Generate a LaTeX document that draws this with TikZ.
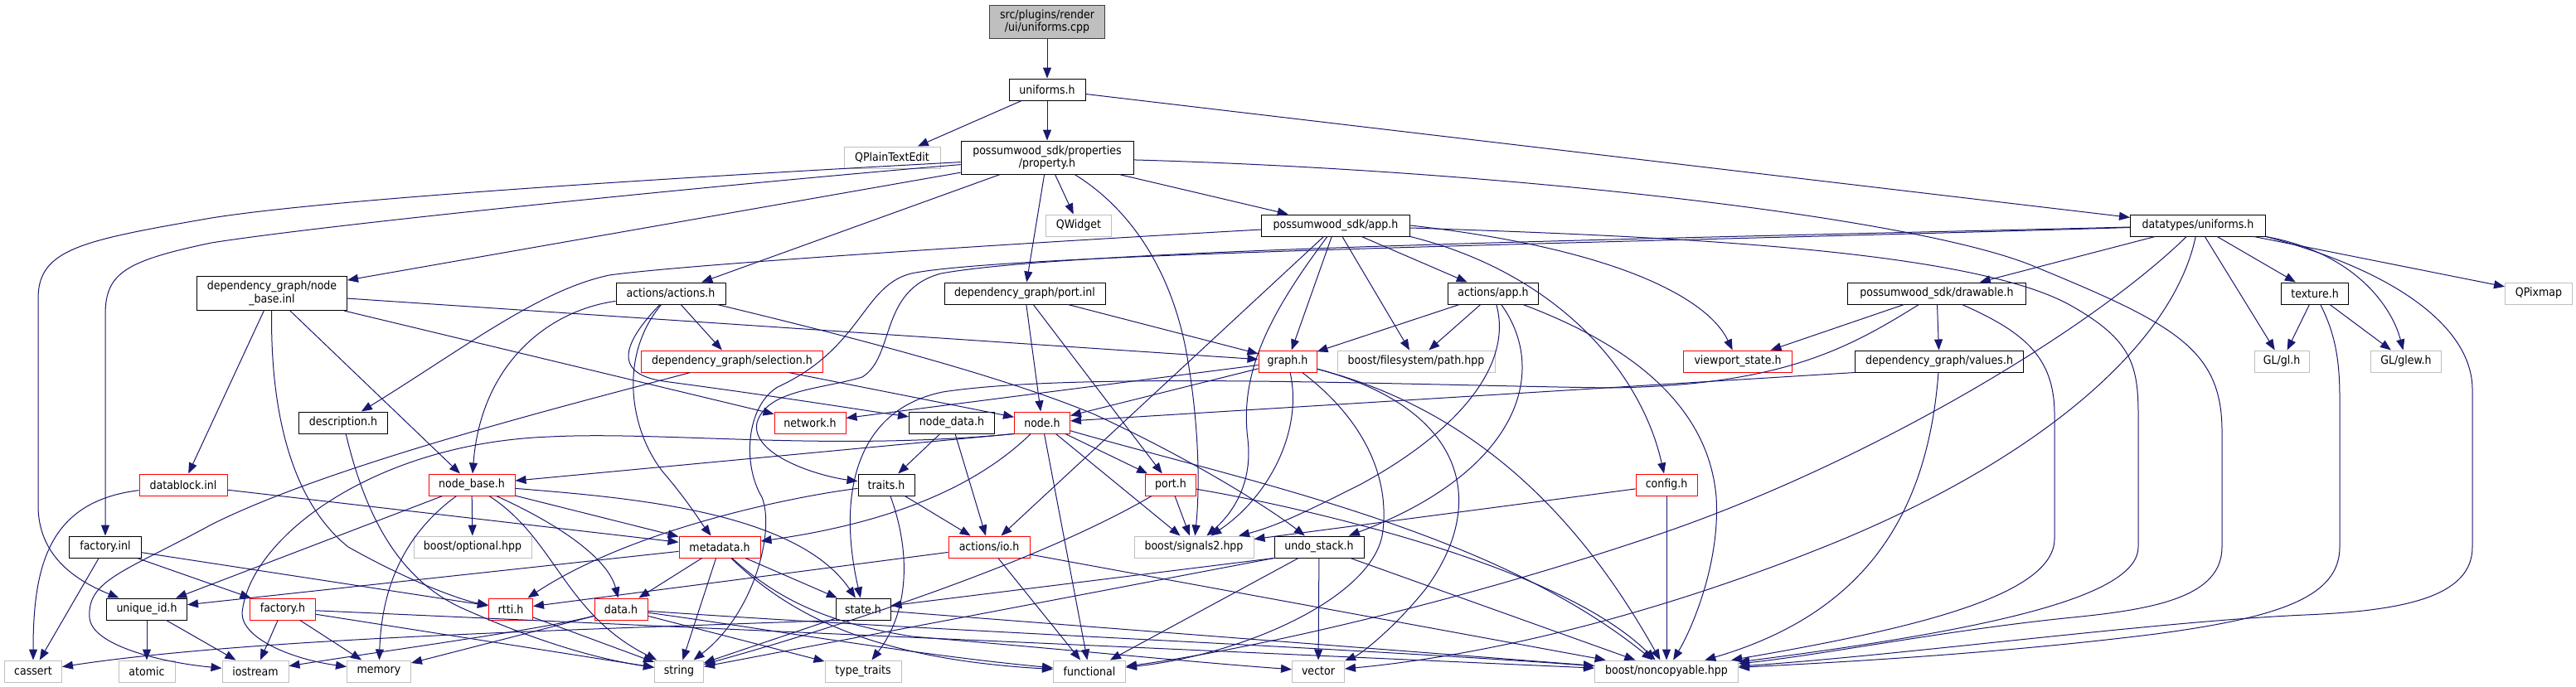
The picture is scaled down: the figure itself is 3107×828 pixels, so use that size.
\documentclass[tikz,border=0pt]{standalone}
\usepackage{fontspec}
\setmainfont{DejaVu Sans Condensed}
\usetikzlibrary{arrows.meta}
\definecolor{edgec}{HTML}{191970}
\definecolor{leafc}{HTML}{BFBFBF}
\definecolor{rootf}{HTML}{BFBFBF}
\definecolor{redc}{HTML}{FF0000}
\tikzset{
  nb/.style={draw=black, line width=1pt, fill=white, inner sep=0pt, minimum height=26pt,
    font=\fontsize{14}{15.5}\selectfont, text=black, align=center},
  rb/.style={nb, draw=redc},
  gb/.style={nb, draw=leafc},
  rootb/.style={nb, fill=rootf, draw=black!75},
  dep/.style={draw=edgec, line width=1pt, -{Triangle[length=13pt,width=10pt]}},
}
\begin{document}
\begin{tikzpicture}[x=1pt,y=-1pt]
\fill[white] (0,0) rectangle (3107,828);
\useasboundingbox (0,0) rectangle (3107,828);
% row 0-2
\node[rootb, minimum width=139pt, minimum height=40pt] (cpp) at (1263,26) {src/plugins/render\\/ui/uniforms.cpp};
\node[nb, minimum width=92pt] (uh) at (1263,108) {uniforms.h};
\node[gb, minimum width=116pt] (qpte) at (1076,190) {QPlainTextEdit};
\node[nb, minimum width=208pt, minimum height=40pt] (prop) at (1263,190) {possumwood\_sdk/properties\\/property.h};
% row 3
\node[gb, minimum width=79pt] (qw) at (1301,272) {QWidget};
\node[nb, minimum width=179pt] (app) at (1611,272) {possumwood\_sdk/app.h};
\node[nb, minimum width=163pt] (dtu) at (2651,272) {datatypes/uniforms.h};
% row 4
\node[nb, minimum width=181pt, minimum height=41pt] (nbinl) at (328,354) {dependency\_graph/node\\\_base.inl};
\node[nb, minimum width=132pt] (acts) at (809,354) {actions/actions.h};
\node[nb, minimum width=194pt] (pinl) at (1236,354) {dependency\_graph/port.inl};
\node[nb, minimum width=109pt] (aapp) at (1801,354) {actions/app.h};
\node[nb, minimum width=215pt] (drawable) at (2336,354) {possumwood\_sdk/drawable.h};
\node[nb, minimum width=81pt] (tex) at (2792,354) {texture.h};
\node[gb, minimum width=81pt] (qpix) at (3062,354) {QPixmap};
% row 5
\node[rb, minimum width=219pt] (sel) at (883,436) {dependency\_graph/selection.h};
\node[rb, minimum width=70pt] (graphh) at (1553,436) {graph.h};
\node[gb, minimum width=190pt] (fspath) at (1708,436) {boost/filesystem/path.hpp};
\node[rb, minimum width=131pt] (vp) at (2096,436) {viewport\_state.h};
\node[nb, minimum width=203pt] (vals) at (2339,436) {dependency\_graph/values.h};
\node[gb, minimum width=66pt] (gl) at (2752,436) {GL/gl.h};
\node[gb, minimum width=85pt] (glew) at (2902,436) {GL/glew.h};
% row 6
\node[nb, minimum width=107pt] (desc) at (414,510) {description.h};
\node[rb, minimum width=86pt] (net) at (977,510) {network.h};
\node[nb, minimum width=103pt] (ndata) at (1148,510) {node\_data.h};
\node[rb, minimum width=67pt] (nodeh) at (1257,510) {node.h};
% row 7
\node[rb, minimum width=106pt] (dblk) at (221,585) {datablock.inl};
\node[rb, minimum width=104pt] (nbh) at (569,585) {node\_base.h};
\node[nb, minimum width=68pt] (traits) at (1069,585) {traits.h};
\node[rb, minimum width=61pt] (porth) at (1412,585) {port.h};
\node[rb, minimum width=74pt] (cfg) at (2010,585) {config.h};
% row 8
\node[nb, minimum width=87pt] (finl) at (127,660) {factory.inl};
\node[gb, minimum width=142pt] (opt) at (570,660) {boost/optional.hpp};
\node[rb, minimum width=98pt] (meta) at (868,660) {metadata.h};
\node[rb, minimum width=98pt] (io) at (1193,660) {actions/io.h};
\node[gb, minimum width=144pt] (sig) at (1440,660) {boost/signals2.hpp};
\node[nb, minimum width=108pt] (undo) at (1591,660) {undo\_stack.h};
% row 9
\node[nb, minimum width=97pt] (uid) at (177,735) {unique\_id.h};
\node[rb, minimum width=79pt] (fac) at (341,735) {factory.h};
\node[rb, minimum width=53pt] (rtti) at (616,735) {rtti.h};
\node[rb, minimum width=64pt] (datah) at (749,735) {data.h};
\node[nb, minimum width=66pt] (stateh) at (1041,735) {state.h};
% row 10
\node[gb, minimum width=69pt] (cassert) at (40,810) {cassert};
\node[gb, minimum width=68pt] (atomic) at (177,810) {atomic};
\node[gb, minimum width=80pt] (iostream) at (308,810) {iostream};
\node[gb, minimum width=77pt] (mem) at (457,810) {memory};
\node[gb, minimum width=59pt] (strg) at (819,810) {string};
\node[gb, minimum width=92pt] (tt) at (1041,810) {type\_traits};
\node[gb, minimum width=87pt] (func) at (1314,810) {functional};
\node[gb, minimum width=63pt] (vec) at (1590,810) {vector};
\node[gb, minimum width=173pt] (noncopy) at (2010,810) {boost/noncopyable.hpp};

% ---- edges ----
\draw[dep] (cpp) -- (uh);
\draw[dep] (uh) -- (qpte);
\draw[dep] (uh) -- (prop);
\draw[dep] (uh) -- (dtu);
% property.h
\draw[dep] (prop) -- (qw);
\draw[dep] (prop) -- (app);
\draw[dep] (prop) -- (acts);
\draw[dep] (prop) -- (pinl);
\draw[dep] (prop) -- (nbinl);
\draw[dep] (prop) .. controls (1360,250) and (1410,320) .. (1430,420) .. controls (1445,500) and (1448,580) .. (sig);
\draw[dep] (prop) .. controls (1800,205) and (2300,260) .. (2450,320) .. controls (2620,390) and (2680,420) .. (2680,520) -- (2680,660) .. controls (2680,720) and (2600,735) .. (2500,745) .. controls (2350,760) and (2200,790) .. (noncopy);
\draw[dep] (prop) .. controls (800,215) and (400,240) .. (255,263) .. controls (100,290) and (46,300) .. (46,360) -- (46,610) .. controls (46,670) and (90,700) .. (uid);
\draw[dep] (prop) .. controls (900,220) and (400,270) .. (255,293) .. controls (150,315) and (127,330) .. (127,380) -- (finl);
% app.h
\draw[dep] (app) .. controls (1200,295) and (820,320) .. (735,332) .. controls (650,350) and (560,420) .. (desc);
\draw[dep] (app) -- (aapp);
\draw[dep] (app) -- (graphh);
\draw[dep] (app) -- (fspath);
\draw[dep] (app) -- (io);
\draw[dep] (app) .. controls (1530,380) and (1495,450) .. (1505,530) .. controls (1512,590) and (1480,625) .. (sig);
\draw[dep] (app.south east) .. controls (1880,330) and (1980,450) .. (cfg);
\draw[dep] (app.east) .. controls (1950,300) and (2060,360) .. (vp);
\draw[dep] (app) .. controls (2000,285) and (2380,300) .. (2500,370) .. controls (2570,410) and (2579,440) .. (2579,500) -- (2579,660) .. controls (2579,720) and (2400,760) .. (noncopy);
% datatypes/uniforms.h
\draw[dep] (dtu) -- (drawable);
\draw[dep] (dtu) -- (tex);
\draw[dep] (dtu) -- (qpix);
\draw[dep] (dtu) -- (gl);
\draw[dep] (dtu.south east) .. controls (2840,305) and (2885,370) .. (glew);
\draw[dep] (dtu.south east) .. controls (2900,330) and (2982,400) .. (2982,470) -- (2982,660) .. controls (2982,720) and (2900,737) .. (2780,742) .. controls (2600,750) and (2300,790) .. (noncopy);
\draw[dep] (dtu) .. controls (2620,420) and (2450,560) .. (2200,660) .. controls (1950,760) and (1750,795) .. (vec);
\draw[dep] (dtu) .. controls (2520,400) and (2250,560) .. (2000,645) .. controls (1750,730) and (1500,785) .. (func);
\draw[dep] (dtu) .. controls (2000,288) and (1300,300) .. (1135,330) .. controls (1060,350) and (1080,430) .. (1040,455) .. controls (990,470) and (925,470) .. (913,510) .. controls (905,550) and (990,575) .. (traits);
\draw[dep] (dtu) .. controls (2000,292) and (1220,305) .. (1099,330) .. controls (1040,345) and (1040,420) .. (938,467) .. controls (900,490) and (895,560) .. (919,600) .. controls (935,640) and (910,740) .. (strg);
% texture.h
\draw[dep] (tex) -- (gl);
\draw[dep] (tex) -- (glew);
\draw[dep] (tex) .. controls (2815,400) and (2822,430) .. (2822,480) -- (2822,660) .. controls (2822,720) and (2750,745) .. (2600,765) .. controls (2400,790) and (2200,800) .. (noncopy);
% drawable.h
\draw[dep] (drawable) -- (vp);
\draw[dep] (drawable) -- (vals);
\draw[dep] (drawable) .. controls (2440,400) and (2478,430) .. (2478,500) -- (2478,650) .. controls (2478,720) and (2300,760) .. (noncopy);
\draw[dep] (drawable) .. controls (2230,420) and (2150,465) .. (1943,468) .. controls (1700,465) and (1300,448) .. (1137,473) .. controls (1030,495) and (1010,600) .. (stateh);
% values.h
\draw[dep] (vals.south west) -- (nodeh);
\draw[dep] (vals) .. controls (2325,620) and (2250,740) .. (noncopy);
% actions/app.h
\draw[dep] (aapp) -- (graphh);
\draw[dep] (aapp) -- (fspath);
\draw[dep] (aapp) .. controls (1825,440) and (1760,520) .. (1640,585) .. controls (1580,615) and (1540,635) .. (sig);
\draw[dep] (aapp) .. controls (1870,450) and (1830,570) .. (undo);
\draw[dep] (aapp) .. controls (1950,410) and (2060,480) .. (2070,600) .. controls (2075,680) and (2040,760) .. (noncopy);
% actions/actions.h
\draw[dep] (acts) -- (sel);
\draw[dep] (acts) .. controls (660,375) and (580,440) .. (nbh);
\draw[dep] (acts) .. controls (755,410) and (735,450) .. (800,460) .. controls (950,480) and (1040,495) .. (ndata);
\draw[dep] (acts) .. controls (745,430) and (760,520) .. (800,570) .. controls (830,605) and (845,630) .. (meta);
\draw[dep] (acts) .. controls (1000,400) and (1200,450) .. (1320,500) .. controls (1450,560) and (1540,620) .. (undo);
% node_base.inl
\draw[dep] (nbinl) -- (dblk);
\draw[dep] (nbinl) -- (nbh);
\draw[dep] (nbinl) -- (net);
\draw[dep] (nbinl) -- (graphh);
\draw[dep] (nbinl) .. controls (326,480) and (345,600) .. (420,660) .. controls (500,705) and (560,725) .. (rtti);
% port.inl
\draw[dep] (pinl) -- (nodeh);
\draw[dep] (pinl) -- (porth);
\draw[dep] (pinl) -- (graphh);
% selection.h
\draw[dep] (sel) -- (nodeh);
\draw[dep] (sel) .. controls (700,485) and (400,560) .. (255,633) .. controls (150,690) and (105,700) .. (108,745) .. controls (110,780) and (200,800) .. (iostream);
% graph.h
\draw[dep] (graphh) -- (net);
\draw[dep] (graphh) -- (nodeh);
\draw[dep] (graphh) .. controls (1572,520) and (1530,600) .. (sig);
\draw[dep] (graphh) .. controls (1650,510) and (1675,580) .. (1668,640) .. controls (1660,720) and (1500,790) .. (func);
\draw[dep] (graphh) .. controls (1760,490) and (1800,600) .. (1720,710) .. controls (1680,760) and (1640,790) .. (vec);
\draw[dep] (graphh) .. controls (1800,500) and (1920,650) .. (noncopy);
% node.h
\draw[dep] (nodeh.south west) -- (nbh);
\draw[dep] (nodeh.south west) .. controls (1000,545) and (800,520) .. (663,527) .. controls (450,535) and (300,650) .. (292,740) .. controls (292,770) and (350,795) .. (mem);
\draw[dep] (nodeh) .. controls (1180,585) and (1080,630) .. (meta);
\draw[dep] (nodeh) -- (porth);
\draw[dep] (nodeh) -- (sig);
\draw[dep] (nodeh) -- (func);
\draw[dep] (nodeh) .. controls (1500,580) and (1800,640) .. (noncopy);
% node_data.h
\draw[dep] (ndata) -- (traits);
\draw[dep] (ndata) -- (io);
% traits.h
\draw[dep] (traits) -- (io);
\draw[dep] (traits) .. controls (1100,670) and (1095,740) .. (tt);
\draw[dep] (traits) .. controls (950,600) and (760,640) .. (rtti);
% port.h
\draw[dep] (porth) -- (sig);
\draw[dep] (porth) .. controls (1250,680) and (1000,760) .. (strg);
\draw[dep] (porth) .. controls (1560,610) and (1880,680) .. (noncopy);
% config.h
\draw[dep] (cfg) -- (sig);
\draw[dep] (cfg) -- (noncopy);
% datablock.inl
\draw[dep] (dblk) .. controls (60,605) and (40,680) .. (cassert);
\draw[dep] (dblk) -- (meta);
% node_base.h
\draw[dep] (nbh) -- (uid);
\draw[dep] (nbh) -- (opt);
\draw[dep] (nbh) .. controls (480,650) and (460,720) .. (mem);
\draw[dep] (nbh) .. controls (670,650) and (680,740) .. (strg);
\draw[dep] (nbh) .. controls (690,640) and (735,680) .. (datah);
\draw[dep] (nbh) -- (meta);
\draw[dep] (nbh) .. controls (750,600) and (960,615) .. (stateh);
% metadata.h
\draw[dep] (meta) -- (uid);
\draw[dep] (meta) -- (datah);
\draw[dep] (meta) -- (strg);
\draw[dep] (meta) -- (stateh);
\draw[dep] (meta) .. controls (950,740) and (1050,795) .. (func);
\draw[dep] (meta) .. controls (940,725) and (1000,752) .. (1100,768) .. controls (1300,785) and (1450,800) .. (vec);
% actions/io.h
\draw[dep] (io) -- (func);
\draw[dep] (io) -- (rtti);
\draw[dep] (io) -- (noncopy);
% undo_stack.h
\draw[dep] (undo.south west) -- (stateh);
\draw[dep] (undo.south west) -- (strg);
\draw[dep] (undo) -- (func);
\draw[dep] (undo) -- (vec);
\draw[dep] (undo) -- (noncopy);
% state.h
\draw[dep] (stateh) -- (strg);
\draw[dep] (stateh.south west) .. controls (700,760) and (300,770) .. (cassert);
\draw[dep] (stateh) -- (noncopy);
% data.h
\draw[dep] (datah) .. controls (650,760) and (500,780) .. (iostream);
\draw[dep] (datah) -- (mem);
\draw[dep] (datah) -- (tt);
\draw[dep] (datah) .. controls (900,755) and (1100,790) .. (func);
\draw[dep] (datah) .. controls (1100,760) and (1600,780) .. (noncopy);
% rtti.h
\draw[dep] (rtti) -- (strg);
% factory.inl
\draw[dep] (finl) -- (cassert);
\draw[dep] (finl) -- (fac);
\draw[dep] (finl) -- (rtti);
% factory.h
\draw[dep] (fac) -- (iostream);
\draw[dep] (fac) -- (mem);
\draw[dep] (fac) -- (strg);
\draw[dep] (fac) -- (noncopy);
% unique_id.h
\draw[dep] (uid) -- (atomic);
\draw[dep] (uid) -- (iostream);
% description.h
\draw[dep] (desc) .. controls (440,620) and (480,700) .. (560,735) .. controls (650,775) and (720,795) .. (strg);
\end{tikzpicture}
\end{document}
